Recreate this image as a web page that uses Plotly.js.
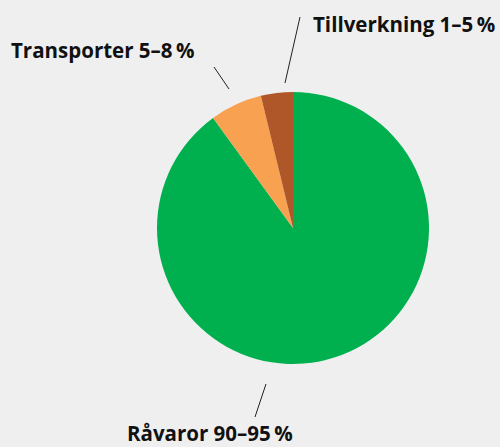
<!DOCTYPE html>
<html>
<head>
<meta charset="utf-8">
<script src="https://cdn.plot.ly/plotly-3.0.1.min.js"></script>
<style>html,body{margin:0;padding:0;background:#efefef;}</style>
</head>
<body>
<div id="chart" style="width:500px;height:447px;"></div>
<script>
const categories = ["Råvaror", "Transporter", "Tillverkning"];
const values = [90, 6.2, 3.8];
const ranges = ["90–95\u2009%", "5–8\u2009%", "1–5\u2009%"];
const colors = ["#00b04f", "#f8a151", "#b0572a"];

const W = 500, H = 447;
const px = x => x / W;
const py = y => 1 - y / H;

// label placement (pixels) and leader lines
const labelPos = [
  {x: 126, y: 448, anchor: 'bottom', line: [266, 384, 255, 417]},
  {x: 10, y: 50, anchor: 'middle', line: [214, 67, 229, 89]},
  {x: 312, y: 24, anchor: 'middle', line: [300, 17, 285, 83]}
];

const annotations = categories.map((c, i) => ({
  xref: 'paper', yref: 'paper',
  x: px(labelPos[i].x), y: py(labelPos[i].y),
  xanchor: 'left', yanchor: labelPos[i].anchor,
  text: c + ' ' + ranges[i],
  showarrow: false,
  borderpad: 0,
  font: {family: 'Open Sans', size: 20.5, color: '#111', weight: 700}
}));
const shapes = labelPos.map(p => ({
  type: 'line', xref: 'paper', yref: 'paper',
  x0: px(p.line[0]), y0: py(p.line[1]), x1: px(p.line[2]), y1: py(p.line[3]),
  line: {color: '#222', width: 1}
}));

const cx = 293, cy = 228, r = 136;
const trace = {
  type: 'pie',
  labels: categories,
  values: values,
  marker: {colors: colors, line: {width: 0}},
  sort: false,
  direction: 'clockwise',
  rotation: 0,
  textinfo: 'none',
  hoverinfo: 'none',
  domain: {x: [px(cx - r), px(cx + r)], y: [py(cy + r), py(cy - r)]}
};

Plotly.newPlot('chart', [trace], {
  width: W, height: H,
  margin: {l: 0, r: 0, t: 0, b: 0},
  paper_bgcolor: '#efefef',
  plot_bgcolor: '#efefef',
  showlegend: false,
  annotations: annotations,
  shapes: shapes
}, {displayModeBar: false, staticPlot: true});
</script>
</body>
</html>
